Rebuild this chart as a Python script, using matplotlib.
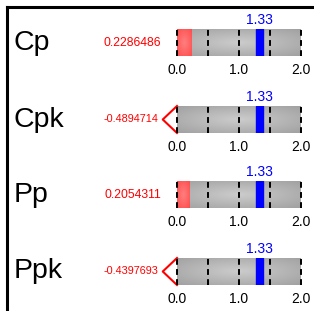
import numpy as np
import matplotlib.pyplot as plt
from matplotlib.patches import Rectangle
from matplotlib.lines import Line2D

plt.rcParams['font.family'] = ['Liberation Sans', 'DejaVu Sans']

# data
indices = ["Cp", "Cpk", "Pp", "Ppk"]
values = [0.2286486, -0.4894714, 0.2054311, -0.4397693]
target = 1.33
scale_ticks = [0.0, 1.0, 2.0]
guide_lines = [0.0, 0.5, 1.0, 1.5, 2.0]

W, H = 314, 311
fig = plt.figure(figsize=(W / 100, H / 100), dpi=100)

# frame around the panel (left and top visible)
fig.add_artist(Line2D([7 / W, 7 / W], [0, 1 - 7 / H], color='black', lw=2.2))
fig.add_artist(Line2D([7 / W, 1], [1 - 7 / H, 1 - 7 / H], color='black', lw=2.2))

bar_tops = [29, 106, 181, 258]
bar_h = 27
x0, x1 = 177, 301

# radial-ish gradient for the gray background
gx = np.linspace(-1, 1, 200)
gy = np.linspace(-1, 1, 40)
GX, GY = np.meshgrid(gx, gy)
shade = 0.80 - 0.12 * np.sqrt(GX ** 2 + GY ** 2)
gray_img = np.dstack([shade, shade, shade])

for name, val, top in zip(indices, values, bar_tops):
    ax = fig.add_axes([x0 / W, 1 - (top + bar_h) / H, (x1 - x0) / W, bar_h / H])
    ax.set_xlim(0, 2)
    ax.set_ylim(0, 1)
    ax.imshow(gray_img, extent=(0, 2, 0, 1), aspect='auto', zorder=0)

    if val > 0:
        rx = np.linspace(-1, 1, 20)
        ry = np.linspace(-1, 1, 40)
        RX, RY = np.meshgrid(rx, ry)
        r = np.sqrt(RX ** 2 + RY ** 2) / np.sqrt(2)
        red = np.dstack([np.full_like(r, 1.0), 0.50 - 0.2 * r, 0.50 - 0.2 * r])
        ax.imshow(red, extent=(0, val, 0, 1), aspect='auto', zorder=1)
        ax.text(-0.26, 0.5, f"{val:.7f}", color='red', fontsize=8.8,
                ha='right', va='center', clip_on=False)
    else:
        ax.plot([0, -0.23, 0], [1, 0.5, 0], color='red', lw=1.5, clip_on=False)
        ax.text(-0.30, 0.5, f"{val:.7f}", color='red', fontsize=7.8,
                ha='right', va='center', clip_on=False)

    ax.add_patch(Rectangle((target - 0.05, 0), 0.1, 1, color='blue', zorder=3))
    for g in guide_lines:
        ax.axvline(g, color='black', lw=1.4, ls=(0, (3, 2.2)), zorder=4, clip_on=False)
    ax.text(target, 1.08, f"{target:.2f}", color='blue', fontsize=10,
            ha='center', va='bottom')

    ax.set_xticks(scale_ticks)
    ax.set_xticklabels([f"{t:.1f}" for t in scale_ticks], fontsize=10)
    ax.tick_params(axis='x', length=0, pad=5)
    ax.set_yticks([])
    for s in ax.spines.values():
        s.set_visible(False)

    fig.text(14 / W, 1 - (top + bar_h / 2) / H, name, fontsize=20.5,
             ha='left', va='center')

fig.savefig("out.png", dpi=100)
